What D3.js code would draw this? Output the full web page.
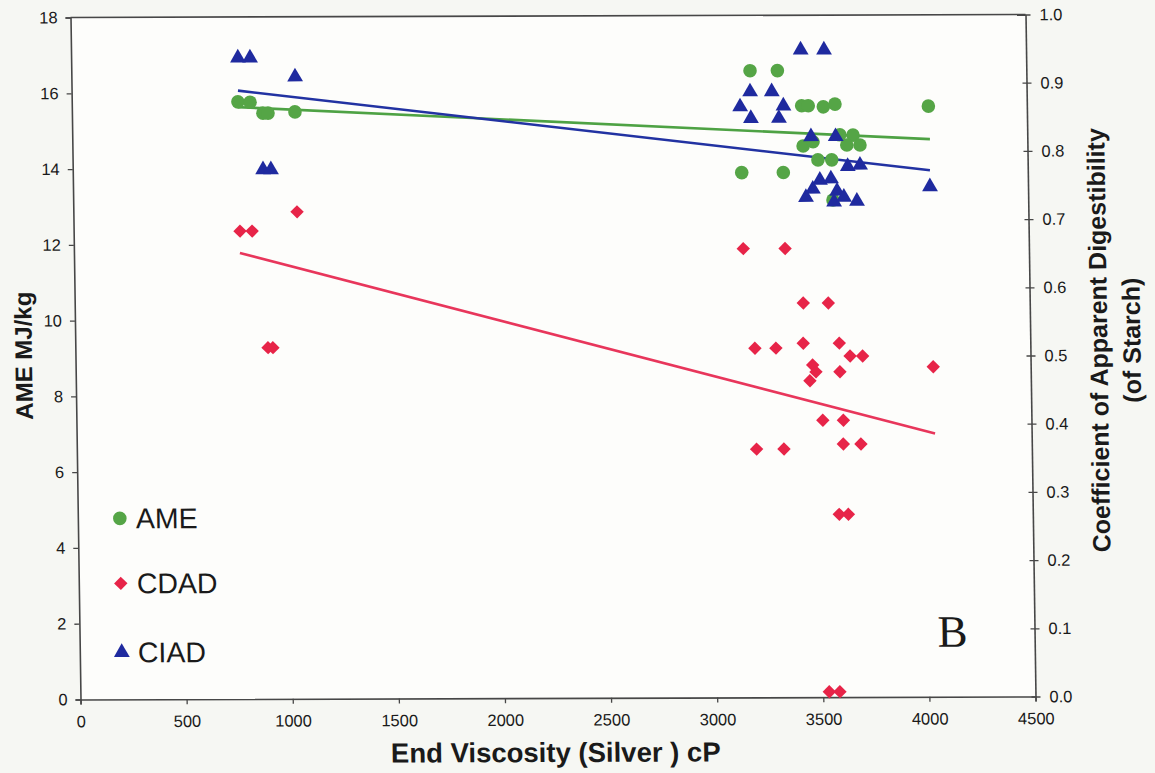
<!DOCTYPE html>
<html>
<head>
<meta charset="utf-8">
<script src="https://cdn.jsdelivr.net/npm/d3@7/dist/d3.min.js"></script>
<style>
  html, body { margin: 0; padding: 0; background: #f6f7f3; }
  svg { display: block; }
  text { font-family: "Liberation Sans", Arial, sans-serif; fill: #1a1a1a; }
</style>
</head>
<body>
<script>
// ---------- DATA ----------
const xTicks = [0, 500, 1000, 1500, 2000, 2500, 3000, 3500, 4000, 4500];
const yLeftTicks = [0, 2, 4, 6, 8, 10, 12, 14, 16, 18];
const yRightTicks = [0.0, 0.1, 0.2, 0.3, 0.4, 0.5, 0.6, 0.7, 0.8, 0.9, 1.0];

// AME (MJ/kg, left axis)
const ameX = [783, 840, 900, 924, 1051, 3198, 3327, 3439, 3470, 3541, 3596, 4036,
              3443, 3490, 3617, 3679, 3649, 3711, 3512, 3577, 3152, 3348, 3580];
const ameY = [15.76, 15.75, 15.46, 15.46, 15.49, 16.54, 16.54, 15.61, 15.61, 15.58, 15.65, 15.59,
              14.55, 14.66, 14.84, 14.83, 14.57, 14.57, 14.18, 14.18, 13.85, 13.85, 13.12];

// CDAD (coefficient, right axis)
const cdadX = [784, 841, 1054, 908, 931, 3154, 3351, 3433, 3551, 3202, 3301, 3430, 3600,
               3650, 3709, 3473, 3488, 3459, 3601, 4041, 3517, 3614, 3203, 3332, 3612, 3695,
               3588, 3631, 3529, 3579];
const cdadY = [0.686, 0.686, 0.714, 0.515, 0.515, 0.658, 0.658, 0.578, 0.578, 0.512, 0.512, 0.519, 0.519,
               0.500, 0.500, 0.487, 0.477, 0.464, 0.477, 0.484, 0.406, 0.406, 0.364, 0.364, 0.371, 0.371,
               0.268, 0.268, 0.008, 0.008];

// CIAD (coefficient, right axis)
const ciadX = [786, 843, 1054, 897, 934, 3438, 3548, 3197, 3299, 3149, 3353, 3199, 3331,
               3481, 3597, 3652, 3710, 4038, 3453, 3486, 3520, 3572, 3600, 3585, 3632, 3693];
const ciadY = [0.940, 0.940, 0.912, 0.776, 0.776, 0.949, 0.949, 0.888, 0.888, 0.866, 0.867, 0.849, 0.849,
               0.822, 0.822, 0.778, 0.780, 0.748, 0.733, 0.745, 0.758, 0.760, 0.742, 0.726, 0.733, 0.727];

// Trend lines (end points)
const ameTrendX = [783, 4041];   const ameTrendY = [15.62, 14.72];
const ciadTrendX = [784, 4039];  const ciadTrendY = [0.892, 0.772];
const cdadTrendX = [782, 4045];  const cdadTrendY = [0.654, 0.386];

const seriesNames = ["AME", "CDAD", "CIAD"];

// ---------- LAYOUT ----------
const W = 1155, H = 773;
const pw = 955, ph = 682;
const col = { AME: "#55a546", CDAD: "#e72448", CIAD: "#1f2a9f" };
const lineCol = { AME: "#4ea244", CDAD: "#e8365b", CIAD: "#2232a2" };

const svg = d3.select("body").append("svg").attr("width", W).attr("height", H);
svg.append("rect").attr("width", W).attr("height", H).attr("fill", "#f6f7f3");

// slight scan skew of the original picture
const g = svg.append("g").attr("transform", "matrix(1,-0.00314,0.01466,1,70.5,17.5)");

const x = d3.scaleLinear().domain([0, 4500]).range([0, pw]);
const yL = d3.scaleLinear().domain([0, 18]).range([ph, 0]);
const yR = d3.scaleLinear().domain([0, 1]).range([ph, 0]);

g.append("rect").attr("width", pw).attr("height", ph).attr("fill", "#fdfdfb");

// axes
const axisCol = "#474747";
const bottomAxis = g.append("g").attr("transform", `translate(0,${ph})`)
  .call(d3.axisBottom(x).tickValues(xTicks).tickSize(5).tickPadding(11).tickFormat(d3.format("d")));
const leftAxis = g.append("g")
  .call(d3.axisLeft(yL).tickValues(yLeftTicks).tickSize(5).tickPadding(8).tickFormat(d3.format("d")));
const rightAxis = g.append("g").attr("transform", `translate(${pw},0)`)
  .call(d3.axisRight(yR).tickValues(yRightTicks).tickSizeInner(5).tickSizeOuter(0).tickPadding(9).tickFormat(d3.format(".1f")));
// right ticks cross the axis
rightAxis.selectAll(".tick line").attr("x1", -4).attr("x2", 5);

[bottomAxis, leftAxis, rightAxis].forEach(a => {
  a.select(".domain").attr("stroke", axisCol).attr("stroke-width", 1.6);
  a.selectAll(".tick line").attr("stroke", axisCol).attr("stroke-width", 1.3);
  a.selectAll(".tick text").attr("font-size", 16.5).attr("font-family", "Liberation Sans, Arial, sans-serif").attr("fill", "#1a1a1a");
});
// top border
g.append("line").attr("x1", 0).attr("x2", pw).attr("y1", 0).attr("y2", 0)
  .attr("stroke", axisCol).attr("stroke-width", 1.6);

// trend lines
function trend(xs, ys, ys_scale, c) {
  const pts = xs.map((d, i) => [x(d), ys_scale(ys[i])]);
  g.append("path").attr("d", d3.line()(pts)).attr("fill", "none")
    .attr("stroke", c).attr("stroke-width", 2.6);
}

// markers
const circleSym = d3.symbol().type(d3.symbolCircle).size(145);
const triSym = d3.symbol().type(d3.symbolTriangle).size(108);
const diaSym = d3.symbol().type(d3.symbolSquare).size(90);

function markers(xs, ys, ys_scale, sym, c, rot) {
  g.append("g").selectAll("path").data(xs.map((d, i) => [d, ys[i]])).join("path")
    .attr("d", sym)
    .attr("transform", d => `translate(${x(d[0])},${ys_scale(d[1])})` + (rot ? ` rotate(${rot})` : ""))
    .attr("fill", c);
}

trend(ameTrendX, ameTrendY, yL, lineCol.AME);
trend(ciadTrendX, ciadTrendY, yR, lineCol.CIAD);
trend(cdadTrendX, cdadTrendY, yR, lineCol.CDAD);

markers(cdadX, cdadY, yR, diaSym, col.CDAD, 45);
markers(ameX, ameY, yL, circleSym, col.AME, 0);
markers(ciadX, ciadY, yR, triSym, col.CIAD, 0);

// legend
const legRows = [
  { name: seriesNames[0], y: 501, sym: circleSym, rot: 0, c: col.AME },
  { name: seriesNames[1], y: 566, sym: diaSym, rot: 45, c: col.CDAD },
  { name: seriesNames[2], y: 635, sym: triSym, rot: 0, c: col.CIAD }
];
legRows.forEach(r => {
  g.append("path").attr("d", r.sym).attr("fill", r.c)
    .attr("transform", `translate(42,${r.y})` + (r.rot ? ` rotate(${r.rot})` : ""));
  g.append("text").attr("x", 58).attr("y", r.y + 10).attr("font-size", 28.5).text(r.name);
});

// panel letter
g.append("text").attr("x", 858).attr("y", 632)
  .style("font-family", "'Liberation Serif', 'Times New Roman', serif")
  .attr("font-size", 45).text("B");

// axis titles
g.append("text").attr("x", pw / 2 - 3).attr("y", 746).attr("text-anchor", "middle")
  .attr("font-size", 27.5).attr("font-weight", "bold").text("End Viscosity (Silver ) cP");

g.append("text").attr("transform", "translate(-52,338) rotate(-90)").attr("text-anchor", "middle")
  .attr("dominant-baseline", "central")
  .attr("font-size", 24).attr("font-weight", "bold").text("AME MJ/kg");

g.append("text").attr("transform", `translate(${pw + 68},326) rotate(-90)`).attr("text-anchor", "middle")
  .attr("dominant-baseline", "central")
  .attr("font-size", 25).attr("font-weight", "bold").text("Coefficient of Apparent Digestibility");
g.append("text").attr("transform", `translate(${pw + 101},326) rotate(-90)`).attr("text-anchor", "middle")
  .attr("dominant-baseline", "central")
  .attr("font-size", 25).attr("font-weight", "bold").text("(of Starch)");
</script>
</body>
</html>
